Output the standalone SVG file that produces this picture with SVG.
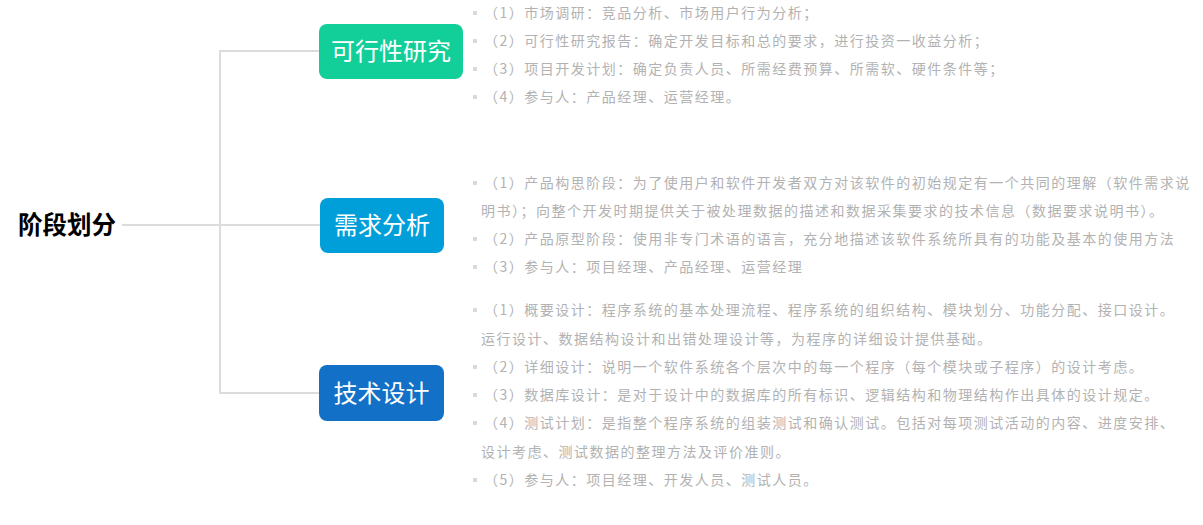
<svg xmlns="http://www.w3.org/2000/svg" width="1203" height="525" viewBox="0 0 1203 525">
<style>
.conn{fill:none;stroke:#dcdcdc;stroke-width:2;stroke-linejoin:miter}
.root{font-family:"Noto Sans CJK SC","Liberation Sans",sans-serif;font-size:24.5px;font-weight:bold;fill:#000}
.ntxt{font-family:"Noto Sans CJK SC","Liberation Sans",sans-serif;font-size:24px;fill:#fff;text-anchor:middle}
.item{font-family:"Noto Sans CJK SC","Liberation Sans",sans-serif;font-size:14px;letter-spacing:1.5px;fill:#b2b2b2}
.bul{fill:#d9d9d9}
</style>
<rect width="1203" height="525" fill="#fff"/>
<g id="connectors">
<path class="conn" d="M122 225H220"/>
<path class="conn" d="M320 51H220V393H320"/>
<path class="conn" d="M220 225H320"/>
</g>
<g id="root">
<text class="root" x="18" y="234">阶段划分</text>
</g>
<g id="node-feasibility">
<rect x="319" y="24" width="144" height="55" rx="8" fill="#12cf9a"/>
<text class="ntxt" x="391" y="60">可行性研究</text>
</g>
<g id="node-requirements">
<rect x="320" y="198" width="124" height="55" rx="8" fill="#019fda"/>
<text class="ntxt" x="382" y="234">需求分析</text>
</g>
<g id="node-design">
<rect x="319" y="365" width="125" height="56" rx="8" fill="#1271c7"/>
<text class="ntxt" x="381.5" y="402">技术设计</text>
</g>
<g id="notes-feasibility">
<rect class="bul" x="473" y="11" width="4" height="4"/>
<text class="item" x="484" y="18">（1）市场调研：竞品分析、市场用户行为分析；</text>
<rect class="bul" x="473" y="39" width="4" height="4"/>
<text class="item" x="484" y="46">（2）可行性研究报告：确定开发目标和总的要求，进行投资一收益分析；</text>
<rect class="bul" x="473" y="67" width="4" height="4"/>
<text class="item" x="484" y="74">（3）项目开发计划：确定负责人员、所需经费预算、所需软、硬件条件等；</text>
<rect class="bul" x="473" y="95" width="4" height="4"/>
<text class="item" x="484" y="102">（4）参与人：产品经理、运营经理。</text>
</g>
<g id="notes-requirements">
<rect class="bul" x="473" y="181" width="4" height="4"/>
<text class="item" x="484" y="188">（1）产品构思阶段：为了使用户和软件开发者双方对该软件的初始规定有一个共同的理解（软件需求说</text>
<text class="item" x="481" y="216">明书）；向整个开发时期提供关于被处理数据的描述和数据采集要求的技术信息（数据要求说明书）。</text>
<rect class="bul" x="473" y="237" width="4" height="4"/>
<text class="item" x="484" y="244">（2）产品原型阶段：使用非专门术语的语言，充分地描述该软件系统所具有的功能及基本的使用方法</text>
<rect class="bul" x="473" y="265" width="4" height="4"/>
<text class="item" x="484" y="272">（3）参与人：项目经理、产品经理、运营经理</text>
</g>
<g id="notes-design">
<rect class="bul" x="473" y="308" width="4" height="4"/>
<text class="item" x="484" y="315">（1）概要设计：程序系统的基本处理流程、程序系统的组织结构、模块划分、功能分配、接口设计。</text>
<text class="item" x="481" y="344">运行设计、数据结构设计和出错处理设计等，为程序的详细设计提供基础。</text>
<rect class="bul" x="473" y="365" width="4" height="4"/>
<text class="item" x="484" y="372">（2）详细设计：说明一个软件系统各个层次中的每一个程序（每个模块或子程序）的设计考虑。</text>
<rect class="bul" x="473" y="393" width="4" height="4"/>
<text class="item" x="484" y="400">（3）数据库设计：是对于设计中的数据库的所有标识、逻辑结构和物理结构作出具体的设计规定。</text>
<rect class="bul" x="473" y="421" width="4" height="4"/>
<text class="item" x="484" y="428">（4）测试计划：是指整个程序系统的组装测试和确认测试。包括对每项测试活动的内容、进度安排、</text>
<text class="item" x="481" y="457">设计考虑、测试数据的整理方法及评价准则。</text>
<rect class="bul" x="473" y="478" width="4" height="4"/>
<text class="item" x="484" y="485">（5）参与人：项目经理、开发人员、测试人员。</text>
</g>
</svg>
